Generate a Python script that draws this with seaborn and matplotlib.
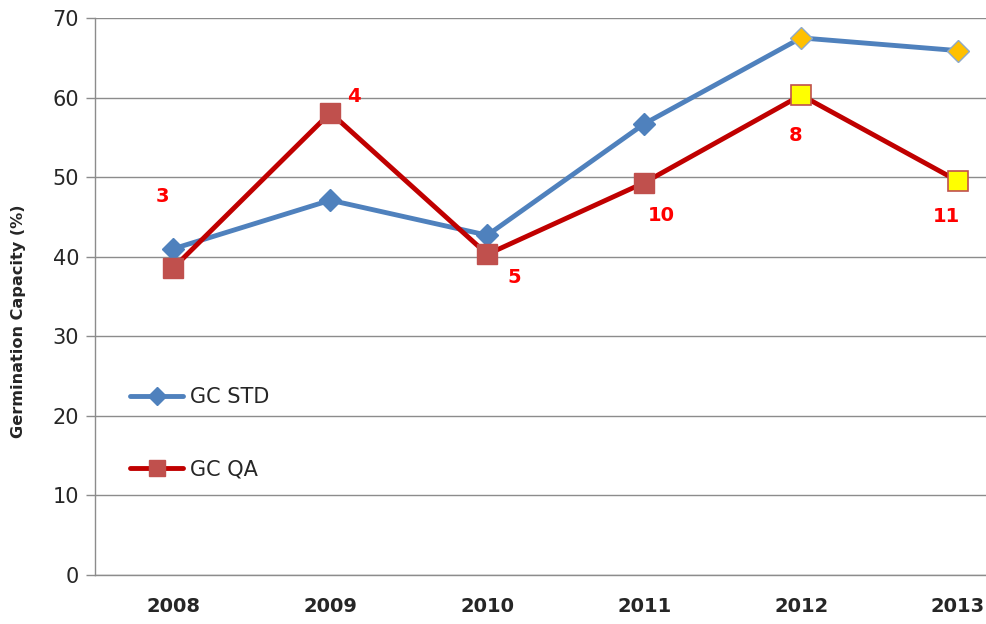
import matplotlib
matplotlib.use("Agg")
import matplotlib.pyplot as plt
import seaborn as sns
import pandas as pd
from matplotlib.lines import Line2D

years = ["2008", "2009", "2010", "2011", "2012", "2013"]
gc_std = [41.0, 47.1, 42.7, 56.7, 67.5, 65.9]
gc_qa = [38.6, 58.1, 40.3, 49.3, 60.3, 49.5]
qa_labels = ["3", "4", "5", "10", "8", "11"]
highlight = [False, False, False, False, True, True]

sns.set_theme(style="white")
plt.rcParams["font.family"] = ["DejaVu Sans"]

df = pd.DataFrame({
    "x": list(range(len(years))) * 2,
    "value": gc_std + gc_qa,
    "series": ["GC STD"] * len(years) + ["GC QA"] * len(years),
})

fig = plt.figure(figsize=(9.87, 6.24), dpi=100)
axw = 941.5
ax = fig.add_axes([95 / 987, 49 / 624, axw / 987, 557 / 624])

std_line = "#4F81BD"
qa_line = "#C00000"
qa_marker = "#C0504D"
lw = 3.5

sns.lineplot(data=df[df.series == "GC STD"], x="x", y="value", ax=ax,
             color=std_line, linewidth=lw, legend=False, zorder=3)
sns.lineplot(data=df[df.series == "GC QA"], x="x", y="value", ax=ax,
             color=qa_line, linewidth=lw, legend=False, zorder=4)

xs = list(range(len(years)))
for i in xs:
    if highlight[i]:
        ax.plot(i, gc_std[i], marker="D", markersize=11, color="#FFC000",
                markeredgecolor="#8EA9C8", markeredgewidth=1.0, zorder=5)
        ax.plot(i, gc_qa[i], marker="s", markersize=14, color="#FFFF00",
                markeredgecolor=qa_marker, markeredgewidth=1.2, zorder=6)
    else:
        ax.plot(i, gc_std[i], marker="D", markersize=11, color=std_line,
                markeredgecolor=std_line, zorder=5)
        ax.plot(i, gc_qa[i], marker="s", markersize=14, color=qa_marker,
                markeredgecolor=qa_marker, zorder=6)

offsets = [(-11, 71), (24, 16), (27, -23), (17, -33), (-6, -40), (-12, -35)]
for i, (lab, (dx, dy)) in enumerate(zip(qa_labels, offsets)):
    ax.annotate(lab, (i, gc_qa[i]), xytext=(dx * 0.72, dy * 0.72),
                textcoords="offset points", ha="center", va="center",
                color="#FF0000", fontsize=14, fontweight="bold", zorder=7)

ax.set_xlim(-0.5, 5.5)
ax.set_ylim(0, 70)
ax.set_yticks(range(0, 71, 10))
ax.yaxis.grid(True, color="#8C8C8C", linewidth=1.0)
ax.set_axisbelow(True)

ax.set_xticks(xs)
ax.set_xticklabels(years, fontsize=14, fontweight="bold")
ax.set_xticks([x - 0.5 for x in range(len(years) + 1)], minor=True)
ax.tick_params(axis="x", which="major", length=0, pad=16)
ax.tick_params(axis="x", which="minor", length=7, width=1, color="#8C8C8C", direction="out")
ax.tick_params(axis="y", length=6.5, width=1, color="#8C8C8C", direction="out",
               labelsize=15, pad=5, left=True)
ax.set_xlabel("")
ax.set_ylabel("Germination Capacity (%)", fontsize=11.6, fontweight="bold")
ax.yaxis.set_label_coords(-69 / axw, 0.456)

for side in ["top", "right"]:
    ax.spines[side].set_visible(False)
for side in ["left", "bottom"]:
    ax.spines[side].set_color("#8C8C8C")
    ax.spines[side].set_linewidth(1.0)

handles = [
    Line2D([], [], color=std_line, linewidth=lw, marker="D", markersize=9,
           markerfacecolor=std_line, markeredgecolor=std_line),
    Line2D([], [], color=qa_line, linewidth=lw, marker="s", markersize=12,
           markerfacecolor=qa_marker, markeredgecolor=qa_marker),
]
ax.legend(handles, ["GC STD", "GC QA"], loc="upper left",
          bbox_to_anchor=(27 / axw, 0.352),
          frameon=False, fontsize=15, labelspacing=2.52, handlelength=2.55,
          handletextpad=0.33, borderaxespad=0)

fig.savefig("out.png", dpi=100)
